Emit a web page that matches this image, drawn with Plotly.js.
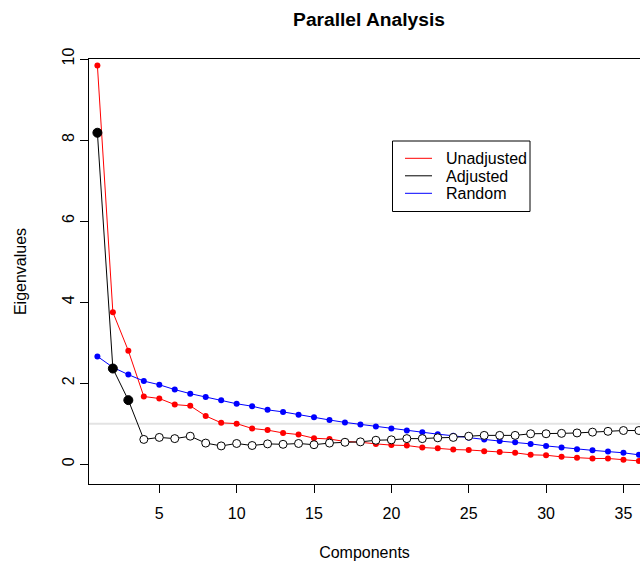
<!DOCTYPE html>
<html>
<head>
<meta charset="utf-8">
<script src="https://cdn.plot.ly/plotly-3.0.1.min.js"></script>
<style>html,body{margin:0;padding:0;background:#fff;overflow:hidden}#chart{width:640px;height:563px}</style>
</head>
<body>
<div id="chart"></div>
<script>
const components = Array.from({length: 36}, (_, i) => i + 1);
const unadjusted = [9.84, 3.75, 2.80, 1.67, 1.62, 1.47, 1.44, 1.19, 1.02, 1.00,
  0.88, 0.84, 0.77, 0.73, 0.64, 0.62, 0.56, 0.54, 0.50, 0.47,
  0.46, 0.41, 0.39, 0.36, 0.35, 0.32, 0.30, 0.28, 0.23, 0.22,
  0.18, 0.16, 0.14, 0.14, 0.11, 0.08];
const adjusted = [8.18, 2.36, 1.58, 0.61, 0.66, 0.63, 0.69, 0.52, 0.45, 0.51,
  0.46, 0.50, 0.49, 0.51, 0.48, 0.52, 0.54, 0.55, 0.59, 0.60,
  0.63, 0.63, 0.65, 0.66, 0.69, 0.71, 0.71, 0.71, 0.75, 0.75,
  0.76, 0.77, 0.79, 0.81, 0.83, 0.83];
const random = [2.66, 2.39, 2.21, 2.05, 1.96, 1.84, 1.74, 1.66, 1.58, 1.49,
  1.43, 1.34, 1.29, 1.22, 1.16, 1.09, 1.03, 0.98, 0.93, 0.88,
  0.83, 0.79, 0.74, 0.70, 0.65, 0.61, 0.57, 0.54, 0.50, 0.45,
  0.41, 0.37, 0.34, 0.31, 0.28, 0.23];
const xTicks = [5, 10, 15, 20, 25, 30, 35];
const yTicks = [0, 2, 4, 6, 8, 10];
const threshold = 1;
const legendNames = ['Unadjusted', 'Adjusted', 'Random'];
const seriesColors = ['#ff0000', '#000000', '#0000ff'];

const FONT = 'Liberation Sans, Arial, Helvetica, sans-serif';

// plot area in pixels
const PL = 89, PR = 640, PT = 59, PB = 484;
const px = v => (v - PL) / (PR - PL);
const py = v => (PB - v) / (PB - PT);

const traces = [
  {x: components, y: unadjusted, mode: 'lines+markers', showlegend: false,
   line: {color: seriesColors[0], width: 1}, marker: {color: seriesColors[0], size: 6, opacity: 1}},
  {x: components, y: random, mode: 'lines+markers', showlegend: false,
   line: {color: seriesColors[2], width: 1}, marker: {color: seriesColors[2], size: 6, opacity: 1}},
  {x: components, y: adjusted, mode: 'lines+markers', showlegend: false,
   line: {color: seriesColors[1], width: 1},
   marker: {size: adjusted.map(v => v > threshold ? 9 : 8), opacity: 1,
            color: adjusted.map(v => v > threshold ? '#000000' : '#ffffff'),
            line: {color: '#000000', width: 1}}}
];

// legend (R style: box, line samples, labels)
const shapes = [
  {type: 'line', xref: 'paper', x0: 0, x1: 1, yref: 'y', y0: threshold, y1: threshold,
   line: {color: '#e3e3e3', width: 2}, layer: 'below'},
  {type: 'rect', xref: 'paper', yref: 'paper', x0: px(392.5), x1: px(530), y0: py(141), y1: py(211.5),
   line: {color: '#000000', width: 1}, fillcolor: '#ffffff', layer: 'above'}
];
const annotations = [];
const rowY0 = 158.3, rowStep = 17.5;
legendNames.forEach((n, i) => {
  const ry = rowY0 + i * rowStep;
  shapes.push({type: 'line', xref: 'paper', yref: 'paper', x0: px(405), x1: px(432), y0: py(ry), y1: py(ry),
               line: {color: seriesColors[i], width: 1}, layer: 'above'});
  annotations.push({text: n, xref: 'paper', yref: 'paper', x: px(444), y: py(ry + 0.5),
                    xanchor: 'left', yanchor: 'middle', showarrow: false,
                    font: {family: FONT, size: 16, color: '#000'}});
});

const layout = {
  width: 640, height: 563,
  margin: {l: PL, r: 640 - PR, t: PT, b: 563 - PB},
  paper_bgcolor: '#ffffff', plot_bgcolor: '#ffffff',
  font: {family: FONT, size: 16, color: '#000000'},
  showlegend: false,
  title: {text: '<b>Parallel Analysis</b>', font: {family: FONT, size: 19.2, color: '#000'},
          x: (369 - 89) / 551, xref: 'paper', xanchor: 'center',
          y: 1 - 19 / 563, yref: 'container', yanchor: 'middle'},
  xaxis: {range: [0.457, 36.07], tickvals: xTicks, ticktext: xTicks.map(String),
          ticks: 'outside', ticklen: 8, tickwidth: 1, tickcolor: '#000', ticklabelstandoff: 7,
          showline: true, linecolor: '#000', linewidth: 1, mirror: true,
          showgrid: false, zeroline: false,
          tickfont: {family: FONT, size: 16},
          title: {text: 'Components', font: {family: FONT, size: 16}, standoff: 25}},
  yaxis: {range: [-0.49, 10.0], tickvals: yTicks, ticktext: yTicks.map(String),
          ticks: 'outside', ticklen: 8, tickwidth: 1, tickcolor: '#000', tickangle: -90,
          showline: true, linecolor: '#000', linewidth: 1, mirror: false,
          showgrid: false, zeroline: false,
          tickfont: {family: FONT, size: 16},
          title: {text: 'Eigenvalues', font: {family: FONT, size: 16}, standoff: 28}},
  shapes: shapes,
  annotations: annotations
};

Plotly.newPlot('chart', traces, layout, {displayModeBar: false, staticPlot: true});
</script>
</body>
</html>
